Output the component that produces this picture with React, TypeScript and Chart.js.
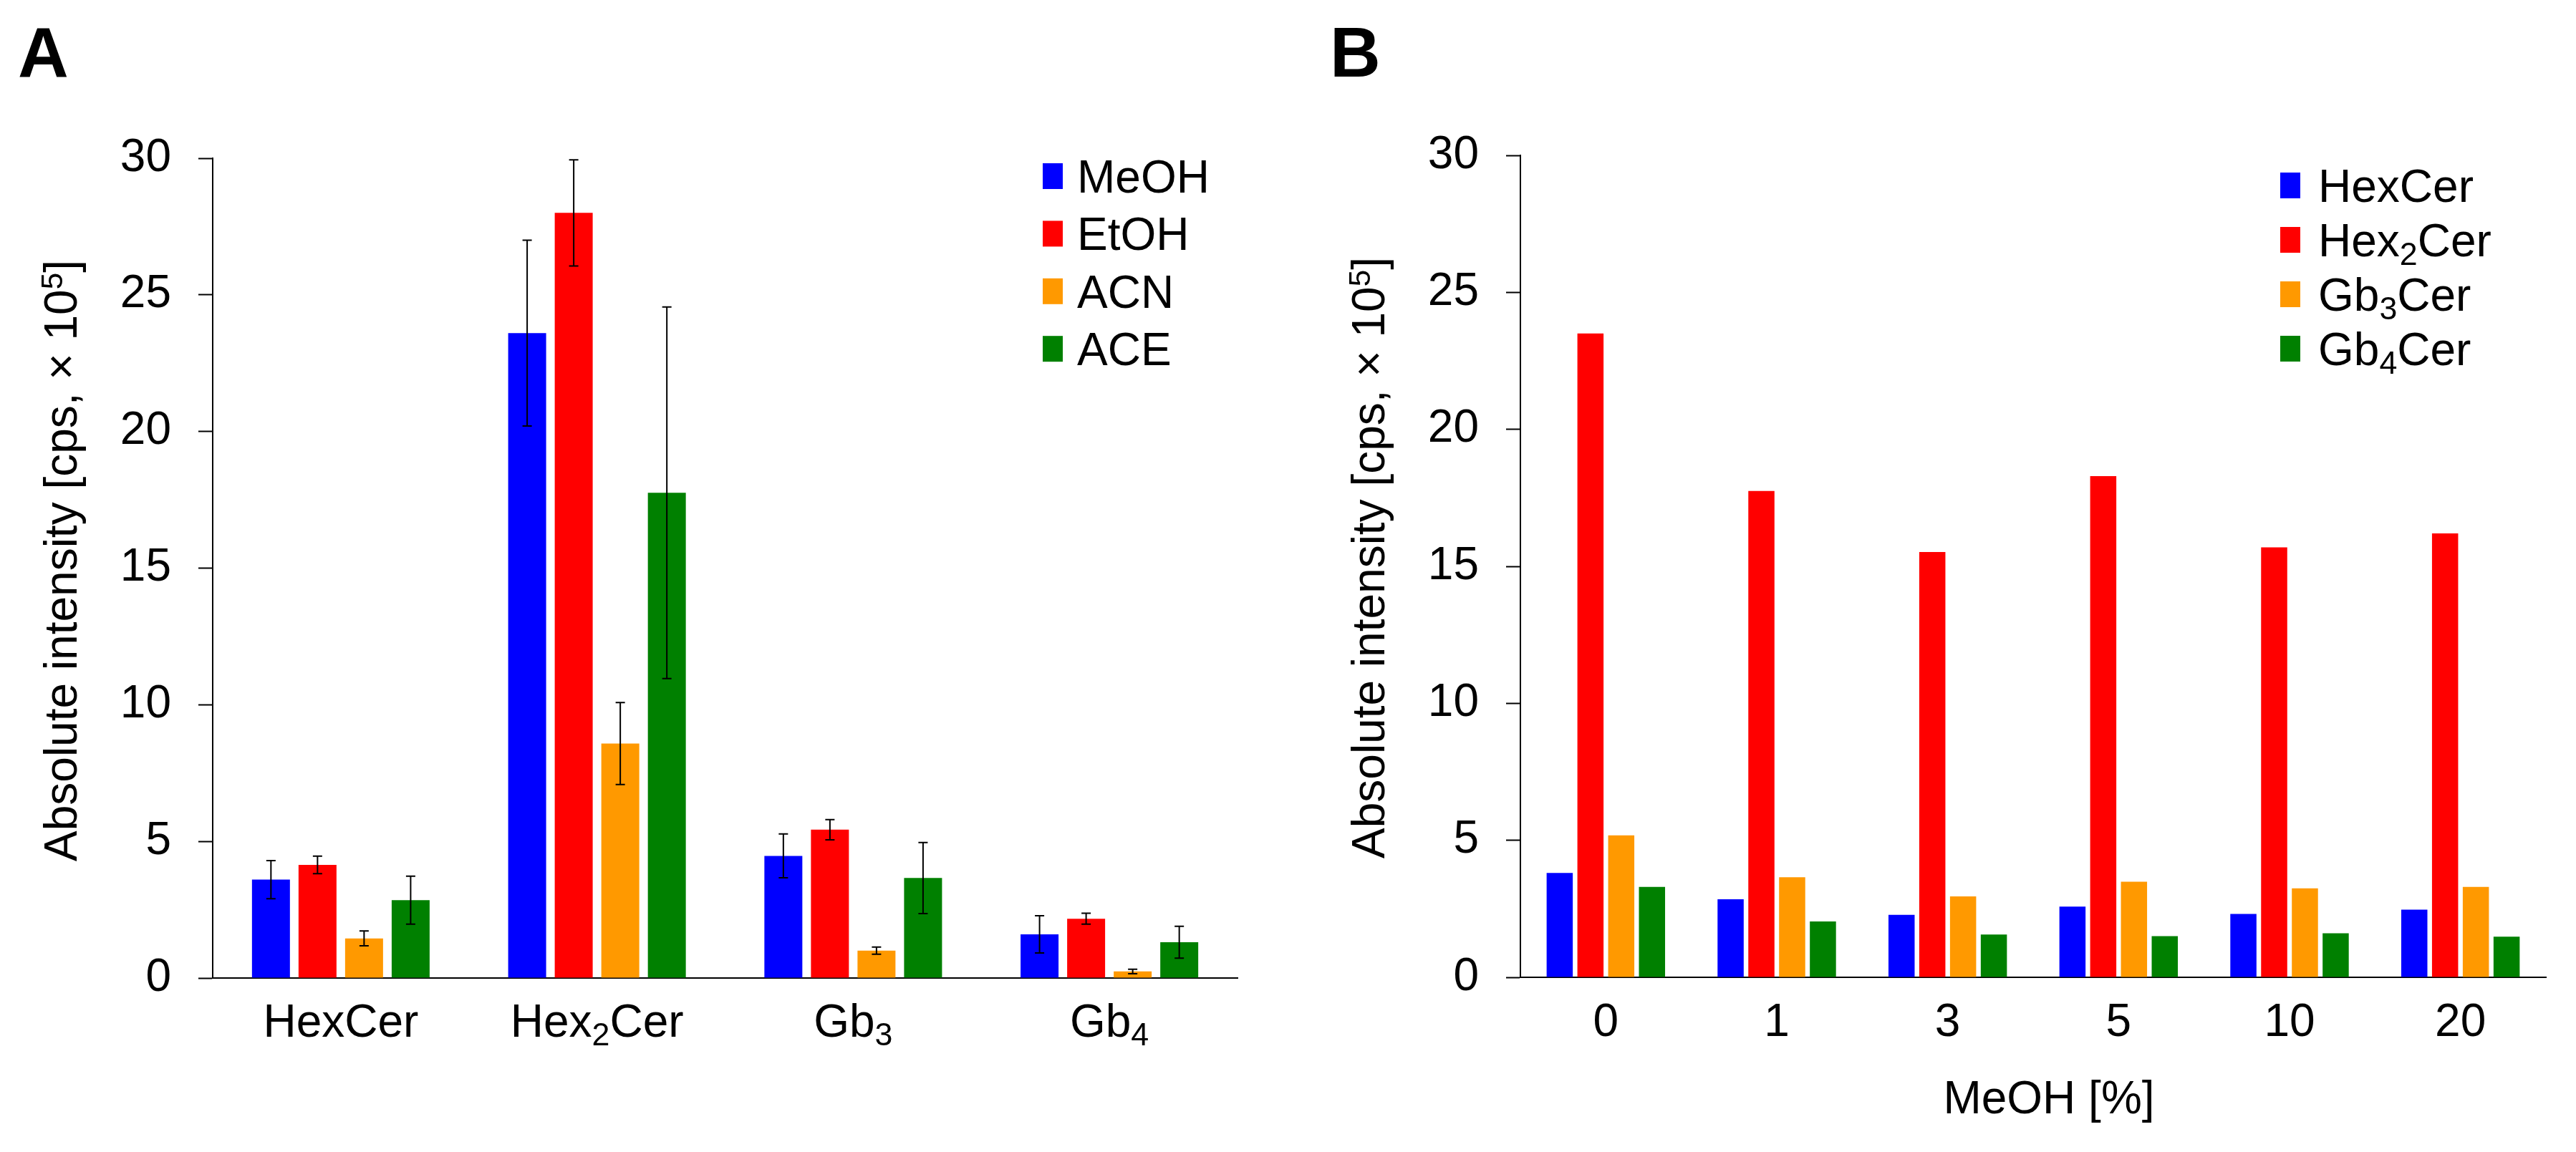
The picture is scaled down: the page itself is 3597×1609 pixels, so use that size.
import React, { useEffect, useRef } from 'react';
import { Chart, registerables } from 'chart.js';

Chart.register(...registerables);

// ---------- Panel A data ----------
const solventCategories = ['HexCer', 'Hex₂Cer', 'Gb₃', 'Gb₄'];
const solventSeries = ['MeOH', 'EtOH', 'ACN', 'ACE'];
const meohValues = [3.6, 23.6, 4.47, 1.6];
const meohErrors = [0.7, 3.4, 0.8, 0.68];
const etohValues = [4.14, 28.0, 5.43, 2.17];
const etohErrors = [0.32, 1.94, 0.37, 0.2];
const acnValues = [1.45, 8.58, 1.0, 0.24];
const acnErrors = [0.27, 1.5, 0.13, 0.08];
const aceValues = [2.85, 17.76, 3.66, 1.31];
const aceErrors = [0.88, 6.8, 1.3, 0.58];

// ---------- Panel B data ----------
const meohPercentLabels = ['0', '1', '3', '5', '10', '20'];
const lipidSeries = ['HexCer', 'Hex₂Cer', 'Gb₃Cer', 'Gb₄Cer'];
const hexCerValues = [3.81, 2.85, 2.28, 2.58, 2.31, 2.47];
const hex2CerValues = [23.5, 17.75, 15.52, 18.29, 15.69, 16.2];
const gb3CerValues = [5.18, 3.65, 2.95, 3.49, 3.25, 3.3];
const gb4CerValues = [3.3, 2.04, 1.56, 1.5, 1.61, 1.48];

// ---------- shared ----------
const seriesColors = ['#0000FF', '#FF0000', '#FF9900', '#008000'];
const yMin = 0;
const yMax = 30;
const yStep = 5;
const yAxisTitle = 'Absolute intensity [cps, × 10⁵]';
const xAxisTitleB = 'MeOH [%]';
const panelLetters = ['A', 'B'];

const FONT = '"Liberation Sans", Arial, Helvetica, sans-serif';
const FS = 64;

const SUB: Record<string, string> = { '₀': '0', '₁': '1', '₂': '2', '₃': '3', '₄': '4', '₅': '5', '₆': '6', '₇': '7', '₈': '8', '₉': '9' };
const SUP: Record<string, string> = { '⁰': '0', '¹': '1', '²': '2', '³': '3', '⁴': '4', '⁵': '5', '⁶': '6', '⁷': '7', '⁸': '8', '⁹': '9' };

type Seg = { kind: 'n' | 'sub' | 'sup'; text: string };

function segments(text: string): Seg[] {
  const out: Seg[] = [];
  for (const ch of text) {
    let kind: Seg['kind'] = 'n';
    let c = ch;
    if (SUB[ch]) { kind = 'sub'; c = SUB[ch]; }
    else if (SUP[ch]) { kind = 'sup'; c = SUP[ch]; }
    const last = out[out.length - 1];
    if (last && last.kind === kind) last.text += c;
    else out.push({ kind, text: c });
  }
  return out;
}

function drawRich(ctx: CanvasRenderingContext2D, text: string, x: number, y: number, size: number, align: 'left' | 'center' | 'right', weight = 'normal') {
  const segs = segments(text);
  const fontFor = (k: Seg['kind']) => `${weight} ${k === 'n' ? size : size * (k === 'sub' ? 0.7 : 0.66)}px ${FONT}`;
  const widths = segs.map((s) => { ctx.font = fontFor(s.kind); return ctx.measureText(s.text).width; });
  const total = widths.reduce((a, b) => a + b, 0);
  let cx = align === 'left' ? x : align === 'center' ? x - total / 2 : x - total;
  ctx.textAlign = 'left';
  ctx.textBaseline = 'alphabetic';
  ctx.fillStyle = '#000';
  segs.forEach((s, i) => {
    ctx.font = fontFor(s.kind);
    const dy = s.kind === 'sub' ? size * 0.19 : s.kind === 'sup' ? -size * 0.31 : 0;
    ctx.fillText(s.text, cx, y + dy);
    cx += widths[i];
  });
}

interface PanelSpec {
  letter: string;
  letterX: number;
  legendLabels: string[];
  legendSquareX: number;
  legendTextX: number;
  legendY0: number;
  legendDy: number;
  xTitle?: string;
  xTitleOffset?: number;
  xTitleY?: number;
  errors?: number[][];
}

function overlayPlugin(spec: PanelSpec) {
  return {
    id: 'overlay' + spec.letter,
    afterDatasetsDraw(chart: any) {
      if (!spec.errors) return;
      const ctx: CanvasRenderingContext2D = chart.ctx;
      const ys = chart.scales.y;
      ctx.save();
      ctx.strokeStyle = '#000';
      ctx.lineWidth = 2;
      chart.data.datasets.forEach((ds: any, di: number) => {
        const meta = chart.getDatasetMeta(di);
        meta.data.forEach((el: any, i: number) => {
          const v = ds.data[i];
          const e = spec.errors![di][i];
          const yt = ys.getPixelForValue(v + e);
          const yb = ys.getPixelForValue(v - e);
          const hw = 6.5;
          ctx.beginPath();
          ctx.moveTo(el.x, yt); ctx.lineTo(el.x, yb);
          ctx.moveTo(el.x - hw, yt); ctx.lineTo(el.x + hw, yt);
          ctx.moveTo(el.x - hw, yb); ctx.lineTo(el.x + hw, yb);
          ctx.stroke();
        });
      });
      ctx.restore();
    },
    afterDraw(chart: any) {
      const ctx: CanvasRenderingContext2D = chart.ctx;
      const area = chart.chartArea;
      const xs = chart.scales.x;
      ctx.save();
      // category labels
      (chart.data.labels as string[]).forEach((lab, i) => {
        drawRich(ctx, lab, xs.getPixelForValue(i), area.bottom + 82, FS, 'center');
      });
      // y title
      ctx.save();
      ctx.translate(area.left - 190, area.top + 562);
      ctx.rotate(-Math.PI / 2);
      drawRich(ctx, yAxisTitle, 0, 0, FS, 'center');
      ctx.restore();
      // x title
      if (spec.xTitle) {
        drawRich(ctx, spec.xTitle, (area.left + area.right) / 2 + (spec.xTitleOffset || 0), spec.xTitleY || 0, FS, 'center');
      }
      // panel letter
      drawRich(ctx, spec.letter, spec.letterX, 107, 98, 'left', 'bold');
      // legend
      spec.legendLabels.forEach((lab, i) => {
        const cy = spec.legendY0 + i * spec.legendDy;
        ctx.fillStyle = seriesColors[i];
        ctx.fillRect(spec.legendSquareX, cy - 18, 28, 36);
        drawRich(ctx, lab, spec.legendTextX, cy + 23, FS, 'left');
      });
      ctx.restore();
    },
  };
}

function baseOptions(yWidth: number, xHeight: number, padTop: number, padRight: number, catPct: number, barPct: number) {
  return {
    animation: false,
    responsive: false,
    maintainAspectRatio: false,
    devicePixelRatio: 1,
    layout: { padding: { left: 0, top: padTop, right: padRight, bottom: 0 } },
    datasets: { bar: { categoryPercentage: catPct, barPercentage: barPct } },
    plugins: { legend: { display: false }, tooltip: { enabled: false }, title: { display: false } },
    scales: {
      x: {
        grid: { display: false, drawTicks: false },
        border: { display: true, color: '#000', width: 2 },
        ticks: { display: false },
        afterFit: (s: any) => { s.height = xHeight; },
      },
      y: {
        min: yMin,
        max: yMax,
        ticks: { stepSize: yStep, font: { size: FS, family: FONT }, color: '#000', padding: 38 },
        grid: { drawOnChartArea: false, drawTicks: true, tickLength: 20, tickColor: '#000', tickWidth: 2 },
        border: { display: true, color: '#000', width: 2 },
        afterFit: (s: any) => { s.width = yWidth; },
      },
    },
  };
}

export default function App() {
  const refA = useRef<HTMLCanvasElement>(null);
  const refB = useRef<HTMLCanvasElement>(null);

  useEffect(() => {
    const seriesA = [meohValues, etohValues, acnValues, aceValues];
    const chartA = new Chart(refA.current!, {
      type: 'bar',
      data: {
        labels: solventCategories,
        datasets: solventSeries.map((name, i) => ({
          label: name,
          data: seriesA[i],
          backgroundColor: seriesColors[i],
          borderWidth: 0,
        })),
      },
      options: baseOptions(297, 243, 221, 70, 0.727, 0.815) as any,
      plugins: [overlayPlugin({
        letter: panelLetters[0],
        letterX: 25,
        legendLabels: solventSeries,
        legendSquareX: 1456,
        legendTextX: 1504,
        legendY0: 246,
        legendDy: 80.4,
        errors: [meohErrors, etohErrors, acnErrors, aceErrors],
      })],
    });

    const seriesB = [hexCerValues, hex2CerValues, gb3CerValues, gb4CerValues];
    const chartB = new Chart(refB.current!, {
      type: 'bar',
      data: {
        labels: meohPercentLabels,
        datasets: lipidSeries.map((name, i) => ({
          label: name,
          data: seriesB[i],
          backgroundColor: seriesColors[i],
          borderWidth: 0,
        })),
      },
      options: baseOptions(325, 244, 217, 42, 0.72, 0.85) as any,
      plugins: [overlayPlugin({
        letter: panelLetters[1],
        letterX: 59,
        legendLabels: lipidSeries,
        legendSquareX: 1386,
        legendTextX: 1439,
        legendY0: 259,
        legendDy: 76,
        xTitle: xAxisTitleB,
        xTitleOffset: 22,
        xTitleY: 1555,
      })],
    });

    return () => { chartA.destroy(); chartB.destroy(); };
  }, []);

  return (
    <div style={{ position: 'fixed', left: 0, top: 0, width: 3597, height: 1609, background: '#fff', overflow: 'hidden' }}>
      <canvas ref={refA} width={1798} height={1609} style={{ position: 'absolute', left: 0, top: 0, width: 1798, height: 1609, display: 'block' }} />
      <canvas ref={refB} width={1799} height={1609} style={{ position: 'absolute', left: 1798, top: 0, width: 1799, height: 1609, display: 'block' }} />
    </div>
  );
}
